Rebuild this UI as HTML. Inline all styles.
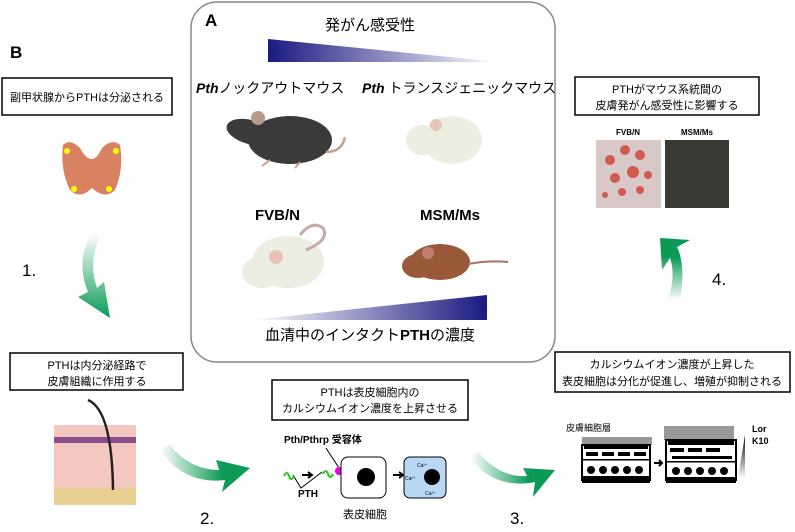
<!DOCTYPE html>
<html><head><meta charset="utf-8"><style>
html,body{margin:0;padding:0;background:#fff;}
svg{display:block;font-family:"Liberation Sans","Noto Sans CJK JP",sans-serif;}
</style></head><body>
<svg width="795" height="532" viewBox="0 0 795 532" xmlns="http://www.w3.org/2000/svg">
<defs>
<linearGradient id="gTop" x1="0" x2="1" y1="0" y2="0"><stop offset="0" stop-color="#1a1a80"/><stop offset="1" stop-color="#fff"/></linearGradient>
<linearGradient id="gBot" x1="0" x2="1" y1="0" y2="0"><stop offset="0" stop-color="#fff"/><stop offset="1" stop-color="#1a1a80"/></linearGradient>
<linearGradient id="ga1" x1="0" y1="0" x2="0" y2="1"><stop offset="0" stop-color="#fff"/><stop offset="1" stop-color="#0a9a55"/></linearGradient>
<linearGradient id="ga2" x1="0" y1="0" x2="1" y2="0"><stop offset="0" stop-color="#fff"/><stop offset="0.7" stop-color="#0a9a55"/></linearGradient>
<linearGradient id="ga4" x1="0" y1="1" x2="0" y2="0"><stop offset="0" stop-color="#fff"/><stop offset="0.7" stop-color="#0a9a55"/></linearGradient>
<linearGradient id="gk" x1="0" y1="1" x2="0" y2="0"><stop offset="0" stop-color="#fff"/><stop offset="1" stop-color="#000"/></linearGradient>
</defs>

<!-- Panel A -->
<rect x="191" y="2" width="364" height="360" rx="26" fill="none" stroke="#888" stroke-width="1.5"/>
<text x="205" y="26" font-size="17" font-weight="bold">A</text>
<text x="370" y="30" font-size="15" text-anchor="middle">発がん感受性</text>
<polygon points="268,39 500,62 268,62" fill="url(#gTop)"/>
<text x="196" y="93" font-size="14"><tspan font-weight="bold" font-style="italic">Pth</tspan>ノックアウトマウス</text>
<text x="362" y="93" font-size="14"><tspan font-weight="bold" font-style="italic">Pth</tspan> トランスジェニックマウス</text>
<!-- black mouse -->
<ellipse cx="290" cy="140" rx="42" ry="24" fill="#3a3a3a"/>
<ellipse cx="250" cy="132" rx="24" ry="12" fill="#3a3a3a" transform="rotate(15 250 132)"/>
<circle cx="258" cy="118" r="7" fill="#b89a8a"/>
<path d="M326,152 Q342,152 345,137" stroke="#c9a090" stroke-width="2.5" fill="none"/>
<path d="M270,160 l-8,6 M300,162 l-5,6" stroke="#c9a090" stroke-width="2"/>
<!-- white mouse top right -->
<ellipse cx="452" cy="140" rx="30" ry="24" fill="#eceee2"/>
<ellipse cx="423" cy="140" rx="17" ry="15" fill="#eceee2"/>
<circle cx="436" cy="125" r="6" fill="#e8c4b8"/>
<text x="255" y="220" font-size="15" font-weight="bold">FVB/N</text>
<text x="420" y="220" font-size="15" font-weight="bold">MSM/Ms</text>
<!-- FVB mouse -->
<ellipse cx="288" cy="262" rx="36" ry="26" fill="#eceee2"/>
<ellipse cx="262" cy="272" rx="20" ry="16" fill="#eceee2"/>
<circle cx="276" cy="257" r="7" fill="#e8c4b8"/>
<path d="M306,250 Q330,240 323,228 Q312,220 300,235" stroke="#c9a8a8" stroke-width="3" fill="none"/>
<!-- MSM mouse -->
<ellipse cx="440" cy="262" rx="30" ry="18" fill="#9a5a3a"/>
<ellipse cx="418" cy="266" rx="16" ry="12" fill="#9a5a3a"/>
<circle cx="428" cy="253" r="6" fill="#c08070"/>
<path d="M468,264 Q490,260 508,262" stroke="#b07060" stroke-width="2" fill="none"/>
<polygon points="252,320 487,295 487,320" fill="url(#gBot)"/>
<text x="370" y="340" font-size="15" text-anchor="middle">血清中のインタクト<tspan font-weight="bold">PTH</tspan>の濃度</text>

<!-- Panel B -->
<text x="10" y="58" font-size="17" font-weight="bold">B</text>
<rect x="2" y="78" width="170" height="37" fill="#fff" stroke="#000" stroke-width="1.5"/>
<text x="87" y="101" font-size="11" text-anchor="middle">副甲状腺からPTHは分泌される</text>
<!-- thyroid -->
<path d="M63,145 Q70,138 80,148 Q92,170 102,148 Q112,138 120,145 Q124,170 115,190 Q105,200 92,188 Q80,200 70,190 Q60,170 63,145Z" fill="#d98262"/>
<circle cx="67" cy="151" r="3" fill="#ff0"/><circle cx="116" cy="151" r="3" fill="#ff0"/>
<circle cx="74" cy="189" r="3" fill="#ff0"/><circle cx="109" cy="189" r="3" fill="#ff0"/>
<!-- arrow 1 -->
<path d="M92,233 Q75,260 88,292 L78,297 L110,318 L104,282 L97,288 Q88,262 100,237Z" fill="url(#ga1)"/>
<text x="22" y="276" font-size="17">1.</text>

<rect x="10" y="353" width="173" height="37" fill="#fff" stroke="#000" stroke-width="1.5"/>
<text x="97" y="369" font-size="11" text-anchor="middle">PTHは内分泌経路で</text>
<text x="97" y="385" font-size="11" text-anchor="middle">皮膚組織に作用する</text>
<!-- skin -->
<rect x="54" y="425" width="82" height="80" fill="#f4c8c0"/>
<rect x="54" y="437" width="82" height="6" fill="#8a4f8a"/>
<rect x="54" y="488" width="82" height="17" fill="#e8d090"/>
<path d="M88,400 Q112,410 113,490" stroke="#222" stroke-width="2.5" fill="none"/>
<!-- arrow 2 -->
<path d="M160,450 Q185,485 225,480 L222,492 L250,468 L216,460 L219,470 Q190,470 170,445Z" fill="url(#ga2)"/>
<text x="200" y="524" font-size="17">2.</text>

<rect x="272" y="380" width="196" height="40" fill="#fff" stroke="#000" stroke-width="1.5"/>
<text x="370" y="396" font-size="11" text-anchor="middle">PTHは表皮細胞内の</text>
<text x="370" y="412" font-size="11" text-anchor="middle">カルシウムイオン濃度を上昇させる</text>
<text x="284" y="443" font-size="10" font-weight="bold">Pth/Pthrp 受容体</text>
<path d="M326,448 L339,468 M293,475 L301,488 L322,472" stroke="#000" fill="none"/>
<path d="M284,476 q3,-6 5,0 t5,0" stroke="#2c2" stroke-width="2" fill="none"/>
<path d="M323,474 q3,-6 5,0 t5,0" stroke="#2c2" stroke-width="2" fill="none"/>
<path d="M302,475 h10 M308,472 l4,3 l-4,3" stroke="#000" stroke-width="2" fill="none"/>
<circle cx="339" cy="471" r="4" fill="#e0e"/>
<rect x="341" y="457" width="45" height="41" rx="7" fill="#fff" stroke="#000"/>
<circle cx="366" cy="477" r="9" fill="#000"/>
<path d="M393,475 h10 M399,472 l4,3 l-4,3" stroke="#000" stroke-width="2" fill="none"/>
<rect x="404" y="457" width="42" height="41" rx="6" fill="#b8d8f4" stroke="#000"/>
<circle cx="432" cy="477" r="8" fill="#000"/>
<text x="417" y="467" font-size="5">Ca²⁺</text><text x="405" y="480" font-size="5">Ca²⁺</text><text x="425" y="495" font-size="5">Ca²⁺</text>
<text x="298" y="497" font-size="10" font-weight="bold">PTH</text>
<text x="365" y="518" font-size="11" text-anchor="middle">表皮細胞</text>
<!-- arrow 3 -->
<path d="M470,458 Q495,490 535,482 L533,497 L555,470 L523,468 L527,476 Q500,478 478,452Z" fill="url(#ga2)"/>
<text x="510" y="524" font-size="17">3.</text>

<rect x="555" y="352" width="235" height="40" fill="#fff" stroke="#000" stroke-width="1.5"/>
<text x="672" y="368" font-size="11" text-anchor="middle">カルシウムイオン濃度が上昇した</text>
<text x="672" y="385" font-size="11" text-anchor="middle">表皮細胞は分化が促進し、増殖が抑制される</text>
<text x="566" y="431" font-size="9">皮膚細胞層</text>
<!-- left layer -->
<rect x="582" y="437" width="70" height="8" fill="#999"/>
<rect x="582" y="445" width="68" height="35" fill="#fff" stroke="#000" stroke-width="2"/>
<g fill="#000">
<rect x="584" y="446" width="64" height="3"/>
<rect x="586" y="452" width="12" height="4"/><rect x="602" y="452" width="12" height="4"/><rect x="618" y="452" width="12" height="4"/><rect x="634" y="452" width="12" height="4"/>
<rect x="582" y="459" width="68" height="1.5"/>
<circle cx="591" cy="470" r="4"/><circle cx="603" cy="470" r="4"/><circle cx="615" cy="470" r="4"/><circle cx="627" cy="470" r="4"/><circle cx="639" cy="470" r="4"/>
<rect x="582" y="476" width="68" height="7"/>
</g>
<path d="M654,463 h8 M659,460 l3,3 l-3,3" stroke="#000" stroke-width="2" fill="none"/>
<!-- right layer -->
<rect x="664" y="426" width="70" height="14" fill="#999"/>
<rect x="666" y="440" width="70" height="40" fill="#fff" stroke="#000" stroke-width="2"/>
<g fill="#000">
<rect x="668" y="441" width="66" height="4"/>
<rect x="670" y="448" width="14" height="4"/><rect x="688" y="448" width="14" height="4"/><rect x="706" y="448" width="14" height="4"/>
<rect x="672" y="456" width="60" height="3"/>
<rect x="666" y="461" width="70" height="1.5"/>
<circle cx="676" cy="471" r="4"/><circle cx="688" cy="471" r="4"/><circle cx="700" cy="471" r="4"/><circle cx="712" cy="471" r="4"/><circle cx="724" cy="471" r="4"/>
<rect x="666" y="477" width="70" height="6"/>
</g>
<polygon points="738,478 745,435 745,478" fill="url(#gk)"/>
<text x="752" y="432" font-size="9" font-weight="bold">Lor</text>
<text x="752" y="444" font-size="9" font-weight="bold">K10</text>

<!-- arrow 4 -->
<path d="M680,300 Q686,265 677,247 L690,240 L660,238 L662,270 L670,258 Q676,275 668,300Z" fill="url(#ga4)"/>
<text x="712" y="285" font-size="17">4.</text>

<rect x="575" y="77" width="184" height="38" fill="#fff" stroke="#000" stroke-width="1.5"/>
<text x="667" y="93" font-size="11" text-anchor="middle">PTHがマウス系統間の</text>
<text x="667" y="109" font-size="11" text-anchor="middle">皮膚発がん感受性に影響する</text>
<text x="628" y="135" font-size="8" font-weight="bold" text-anchor="middle">FVB/N</text>
<text x="697" y="135" font-size="8" font-weight="bold" text-anchor="middle">MSM/Ms</text>
<rect x="596" y="140" width="65" height="68" fill="#d8c8c8"/>
<g fill="#d05a50"><circle cx="610" cy="160" r="5"/><circle cx="625" cy="150" r="5"/><circle cx="640" cy="155" r="5"/><circle cx="615" cy="178" r="5"/><circle cx="633" cy="172" r="6"/><circle cx="648" cy="175" r="4"/><circle cx="622" cy="192" r="4"/><circle cx="640" cy="190" r="4"/><circle cx="605" cy="195" r="3"/></g>
<path d="M665,140 h64 v68 h-64 Z" fill="#3a3a34"/>
</svg>
</body></html>
